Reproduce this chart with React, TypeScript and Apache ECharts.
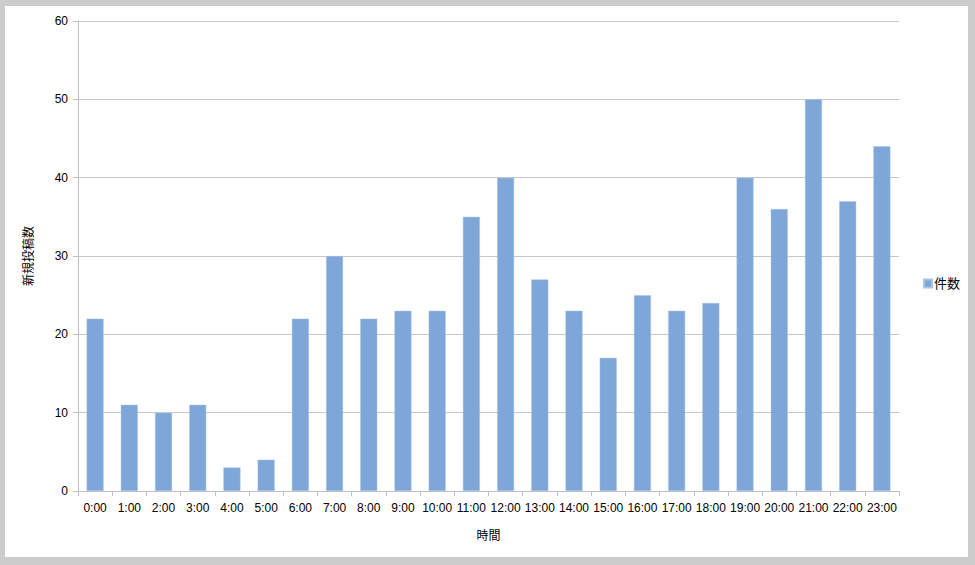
import React, { useEffect, useRef } from "react";
import * as echarts from "echarts";

const categories = ["0:00","1:00","2:00","3:00","4:00","5:00","6:00","7:00","8:00","9:00","10:00","11:00","12:00","13:00","14:00","15:00","16:00","17:00","18:00","19:00","20:00","21:00","22:00","23:00"];
const counts = [22, 11, 10, 11, 3, 4, 22, 30, 22, 23, 23, 35, 40, 27, 23, 17, 25, 23, 24, 40, 36, 50, 37, 44];
const seriesName = "件数";
const xAxisName = "時間";
const yAxisName = "新規投稿数";

export default function App() {
  const ref = useRef<HTMLDivElement>(null);
  useEffect(() => {
    document.body.style.margin = "0";
    const chart = echarts.init(ref.current!, null, { renderer: "svg" });
    const font = "Arial, 'Liberation Sans', 'Noto Sans CJK JP', sans-serif";
    chart.setOption({
      animation: false,
      backgroundColor: "transparent",
      textStyle: { fontFamily: font },
      grid: { left: 73, right: 69, top: 15, bottom: 66 },
      legend: {
        data: [seriesName],
        orient: "vertical",
        left: 913,
        top: 266,
        itemWidth: 8,
        itemHeight: 8,
        itemGap: 4,
        icon: "rect",
        textStyle: { fontSize: 13, color: "#000", fontFamily: font, padding: [0, 0, 0, -3] },
      },
      xAxis: {
        type: "category",
        data: categories,
        name: xAxisName,
        nameLocation: "middle",
        nameGap: 39,
        nameTextStyle: { fontSize: 12, color: "#000" },
        axisLine: { lineStyle: { color: "#c0c0c0", width: 1 } },
        axisTick: { show: true, alignWithLabel: false, length: 5, lineStyle: { color: "#c0c0c0" } },
        axisLabel: { color: "#000", fontSize: 12, margin: 11, interval: 0 },
      },
      yAxis: {
        type: "value",
        min: 0,
        max: 60,
        interval: 10,
        name: yAxisName,
        nameLocation: "middle",
        nameRotate: 90,
        nameGap: 43,
        nameTextStyle: { fontSize: 12, color: "#000" },
        axisLine: { show: true, lineStyle: { color: "#c0c0c0" } },
        axisTick: { show: true, length: 5, lineStyle: { color: "#c0c0c0" } },
        axisLabel: { color: "#000", fontSize: 12, margin: 10 },
        splitLine: { lineStyle: { color: "#c8c8c8" } },
      },
      series: [
        {
          name: seriesName,
          type: "bar",
          data: counts,
          barWidth: 17,
          itemStyle: { color: "#7ea6d8", borderColor: "#a9c4e6", borderWidth: 0.5 },
        },
      ],
    });
    return () => chart.dispose();
  }, []);
  return (
    <div style={{ position: "absolute", left: 0, top: 0, width: 975, height: 565, background: "#cccccc" }}>
      <div style={{ position: "absolute", left: 5, top: 6, width: 963, height: 551, background: "#ffffff" }}>
        <div ref={ref} style={{ width: 963, height: 551 }} />
      </div>
    </div>
  );
}
